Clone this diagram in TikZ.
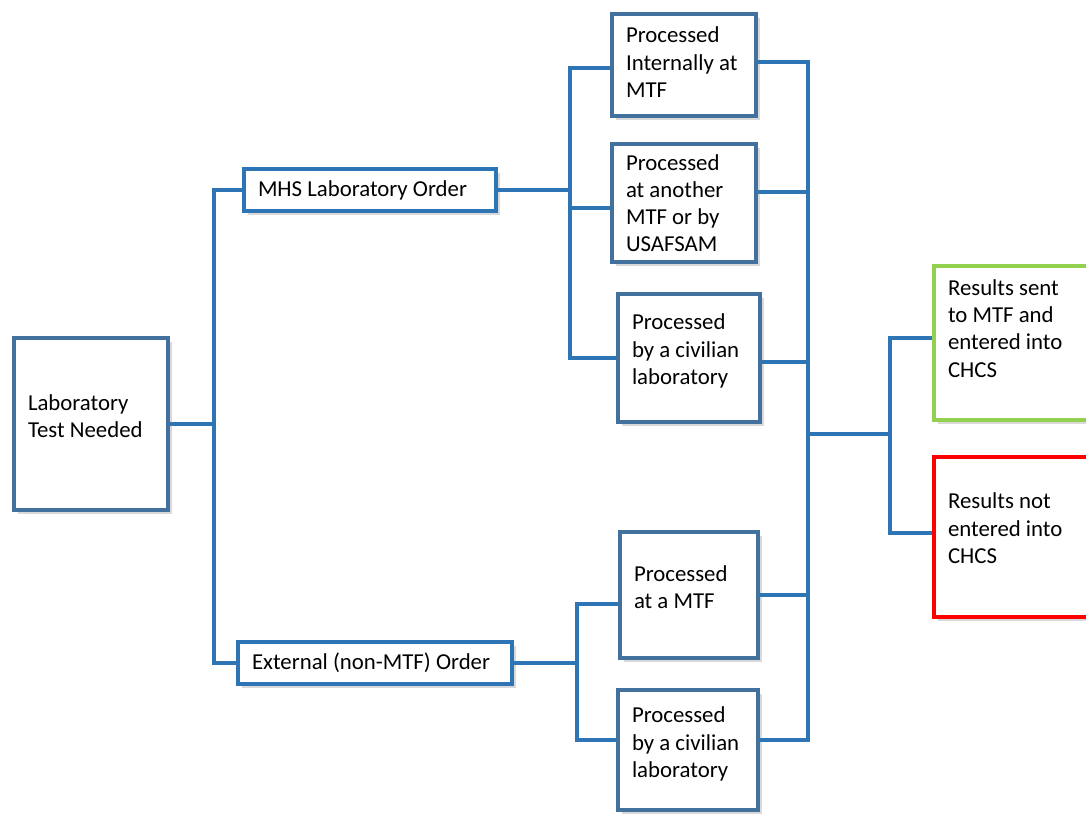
\documentclass[tikz,border=0pt]{standalone}
\usepackage{fontspec}
\setmainfont{Carlito}
\usetikzlibrary{shadows}
\definecolor{boxblue}{HTML}{41719C}
\definecolor{linkblue}{HTML}{2E75B6}
\definecolor{okgreen}{HTML}{92D050}
\tikzset{
  box/.style={draw=boxblue,line width=2.3pt,fill=white,align=flush left,inner xsep=7pt,
    font=\fontsize{11.4}{13.6}\selectfont,
    drop shadow={opacity=0.3,shadow xshift=2pt,shadow yshift=-2pt}},
  order/.style={box,draw=linkblue},
  link/.style={draw=linkblue,line width=1.9pt},
}
\begin{document}
\begin{tikzpicture}[x=0.5pt,y=-0.5pt]
	\useasboundingbox (0,0) rectangle (1086,814);
	\clip (0,0) rectangle (1086,814);
	% boxes
	\node[box,text width=63pt,minimum height=86pt,text depth=21.5pt] (lab) at (91,424) {Laboratory\\Test Needed};
	\node[order,text width=112pt,minimum height=21pt] (mhs) at (370,190) {MHS Laboratory Order};
	\node[order,text width=123pt,minimum height=21pt] (ext) at (375,663) {External (non-MTF) Order};
	\node[box,text width=58pt,minimum height=51pt,text depth=30pt] (pint) at (684,65) {Processed\\Internally at\\MTF};
	\node[box,text width=58pt,minimum height=59pt] (pmtf) at (684,203) {Processed\\at another\\MTF or by\\USAFSAM};
	\node[box,text width=57pt,minimum height=64pt,text depth=36pt] (pciv) at (689,358) {Processed\\by a civilian\\laboratory};
	\node[box,text width=55pt,minimum height=63pt,text depth=21.5pt] (pext) at (689,595) {Processed\\at a MTF};
	\node[box,text width=56pt,minimum height=60pt,text depth=35pt] (pciv2) at (688,750) {Processed\\by a civilian\\laboratory};
	\node[box,draw=okgreen,text width=66pt,minimum height=77pt,text depth=55.5pt] (sent) at (1014,343) {Results sent\\to MTF and\\entered into\\CHCS};
	\node[box,draw=red,text width=66pt,minimum height=80pt,text depth=36pt] (notin) at (1014,537) {Results not\\entered into\\CHCS};
	% junctions
	\coordinate (t1) at (214,424);
	\coordinate (t2) at (570,190);
	\coordinate (t3) at (577,663);
	\coordinate (t4) at (808,434);
	\coordinate (t5) at (890,434);
	% connectors
	\draw[link] (lab.east) -- (t1) (mhs.west) -| (t1) (ext.west) -| (t1);
	\draw[link] (mhs.east) -- (t2) ([yshift=-1.5pt]pint.west) -| (t2)
		([yshift=-2.5pt]pmtf.west) -| (t2) (pciv.west) -| (t2);
	\draw[link] (ext.east) -- (t3) ([yshift=-4.5pt]pext.west) -| (t3)
		([yshift=5pt]pciv2.west) -| (t3);
	\draw[link] ([yshift=1.5pt]pint.east) -| (t4) ([yshift=5.5pt]pmtf.east) -| (t4)
		([yshift=-2pt]pciv.east) -| (t4) (pext.east) -| (t4) ([yshift=5pt]pciv2.east) -| (t4);
	\draw[link] (t4) -- (t5) ([yshift=2.5pt]sent.west) -| (t5) ([yshift=2pt]notin.west) -| (t5);
\end{tikzpicture}
\end{document}
